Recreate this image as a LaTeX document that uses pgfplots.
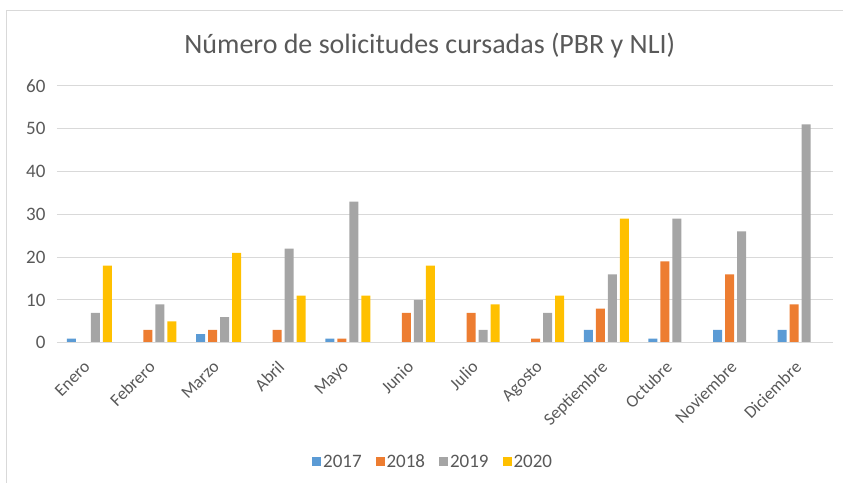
\documentclass[border=0pt]{standalone}
\usepackage{fontspec}
\setmainfont{Carlito}
\usepackage{pgfplots}
\pgfplotsset{compat=1.18}
\definecolor{c17}{HTML}{5B9BD5}
\definecolor{c18}{HTML}{ED7D31}
\definecolor{c19}{HTML}{A5A5A5}
\definecolor{c20}{HTML}{FFC000}
\definecolor{txt}{HTML}{595959}
\definecolor{grd}{HTML}{D9D9D9}
\begin{document}
\begin{tikzpicture}[x=1pt,y=1pt]
\path (0,0) rectangle (843,483);
\draw[grd, line width=1pt] (7,0) -- (7,472) -- (843,472);
\node[txt, font=\fontsize{28}{32}\selectfont] at (430,437) {Número de solicitudes cursadas (PBR y NLI)};
\begin{axis}[
  at={(57pt,140pt)}, anchor=south west,
  scale only axis, width=776pt, height=257pt,
  ybar=3pt, bar width=9pt,
  xmin=-0.5, xmax=11.5, ymin=0, ymax=60,
  ytick={0,10,...,60},
  xtick={0,...,11},
  xticklabels={Enero,Febrero,Marzo,Abril,Mayo,Junio,Julio,Agosto,Septiembre,Octubre,Noviembre,Diciembre},
  x tick label style={rotate=45, anchor=north east, font=\fontsize{17.5}{20}\selectfont, text=txt, xshift=-13pt, yshift=-4pt},
  y tick label style={font=\fontsize{19}{22}\selectfont, text=txt, xshift=-8pt},
  /pgf/number format/assume math mode=true,
  major tick length=0pt,
  axis line style={draw=none},
  axis x line*=bottom,
  ymajorgrids, grid style={grd, line width=1pt},
  legend style={at={(0.485,-0.465)}, anchor=center, draw=none, legend columns=4,
    font=\fontsize{19}{22}\selectfont, text=txt,
    /tikz/every even column/.append style={column sep=12pt}},
  legend image code/.code={\fill[#1] (0pt,-4pt) rectangle (9pt,5pt);},
]
\addplot[fill=c17, draw=none] coordinates {(0,1)(2,2)(4,1)(8,3)(9,1)(10,3)(11,3)};
\addlegendentry{2017}
\addplot[fill=c18, draw=none] coordinates {(1,3)(2,3)(3,3)(4,1)(5,7)(6,7)(7,1)(8,8)(9,19)(10,16)(11,9)};
\addlegendentry{2018}
\addplot[fill=c19, draw=none] coordinates {(0,7)(1,9)(2,6)(3,22)(4,33)(5,10)(6,3)(7,7)(8,16)(9,29)(10,26)(11,51)};
\addlegendentry{2019}
\addplot[fill=c20, draw=none] coordinates {(0,18)(1,5)(2,21)(3,11)(4,11)(5,18)(6,9)(7,11)(8,29)};
\addlegendentry{2020}
\draw[grd, line width=1pt] (axis cs:-0.5,0) -- (axis cs:11.5,0);
\end{axis}
\end{tikzpicture}
\end{document}
